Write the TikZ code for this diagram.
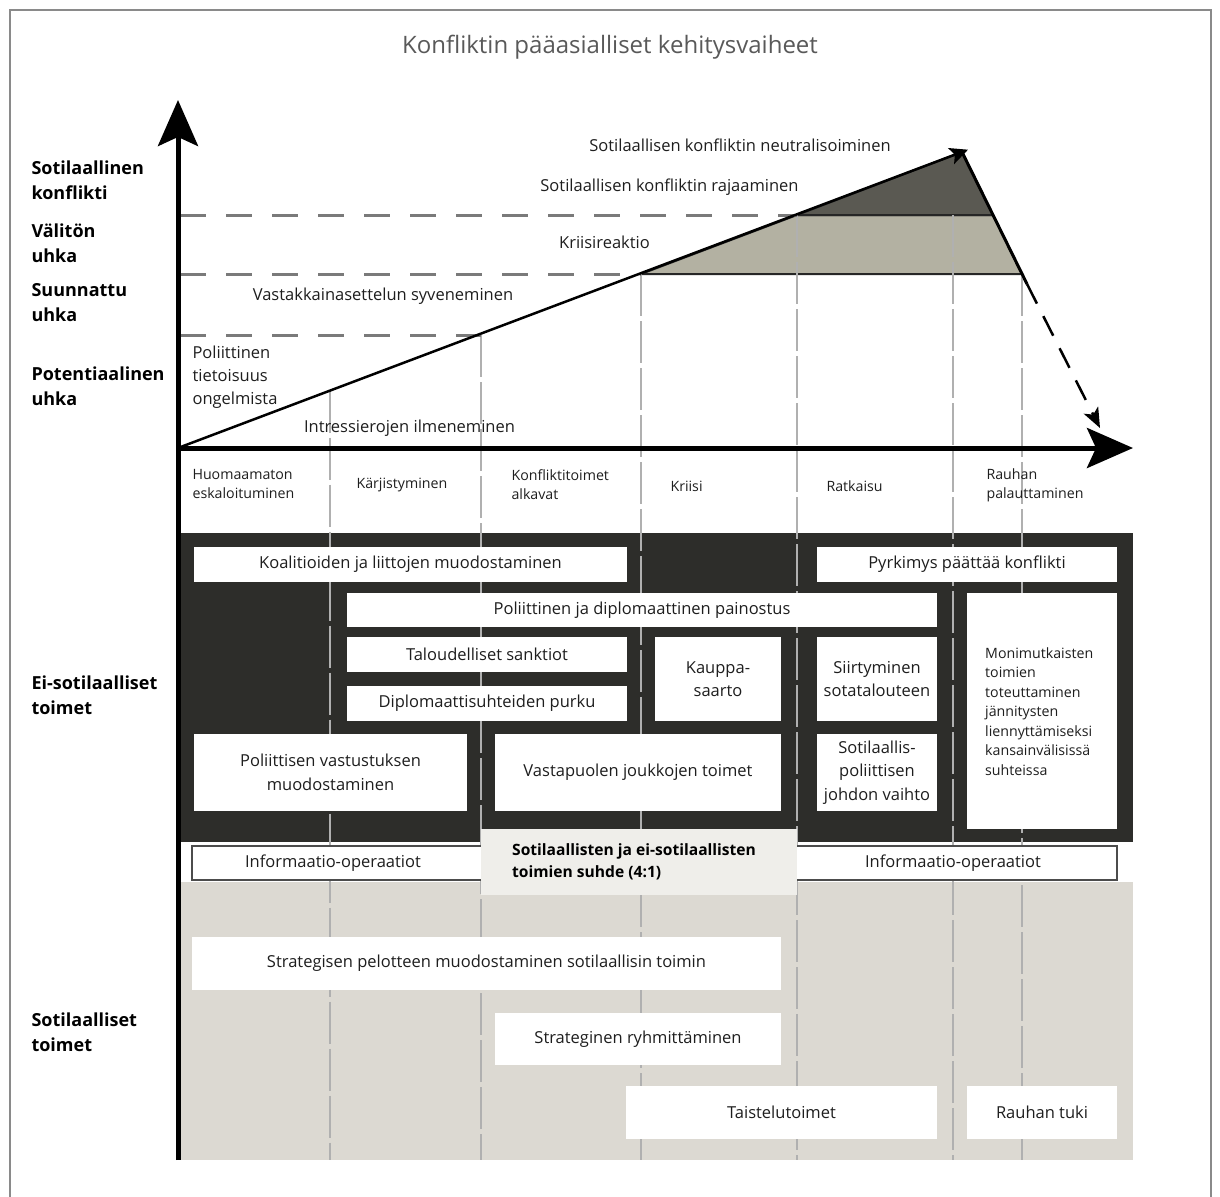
\documentclass[tikz,border=0pt]{standalone}
\usepackage{fontspec}
\setmainfont{Open Sans}
\usetikzlibrary{arrows.meta}
\definecolor{darkbg}{HTML}{2D2D2A}
\definecolor{greybg}{HTML}{DCD9D2}
\definecolor{tridark}{HTML}{5A5952}
\definecolor{trilight}{HTML}{B3B1A2}
\definecolor{titlegrey}{HTML}{595959}
\definecolor{dashgrey}{HTML}{7A7A7A}
\definecolor{vgrey}{HTML}{B0B0B0}
\definecolor{ratiobg}{HTML}{EFEEEA}
\definecolor{txt}{HTML}{1E1E1E}
\definecolor{framegrey}{HTML}{8A8A8A}
\begin{document}
\begin{tikzpicture}[x=1pt,y=-1pt,
  wbox/.style={fill=white, inner sep=2pt, align=center, text=txt,
    font=\fontsize{16.5}{23.5}\selectfont},
  infobox/.style={fill=white, draw=black!70, line width=1.2pt, inner sep=2pt,
    text=txt, font=\fontsize{16.5}{22}\selectfont},
  ratiobox/.style={fill=ratiobg, inner sep=0pt},
  ylab/.style={anchor=west, align=left, font=\bfseries\fontsize{18}{25}\selectfont, text=black},
  plab/.style={align=center, text=txt, font=\fontsize{16.5}{23}\selectfont},
  phlab/.style={anchor=west, align=left, text=txt, font=\fontsize{14.2}{19}\selectfont},
  hdash/.style={draw=dashgrey, line width=3pt, dash pattern=on 26pt off 20pt},
  vline/.style={draw=vgrey, line width=2pt, dash pattern=on 42pt off 5pt},
  axisline/.style={draw=black, line width=5pt},
  bigtip/.style={-{Stealth[length=46pt,width=40pt,inset=9pt]}},
  riseline/.style={draw=black, line width=2.5pt},
]
\useasboundingbox (0,0) rectangle (1220,1196);
% frame
\draw[framegrey, line width=1.2pt] (10,1197) -- (10,10) -- (1211,10) -- (1211,1197);

% key points
\coordinate (O) at (178,448);
\coordinate (peak) at (962,152);
\coordinate (tip) at (968,149.7);
\coordinate (a1) at (797,215);
\coordinate (a2) at (993,215);
\coordinate (b1) at (641,274);
\coordinate (b2) at (1022,274);
\coordinate (c1) at (481,335);
\coordinate (downtip) at (1100,428);

% title
\node[text=titlegrey, font=\fontsize{24}{28}\selectfont] (title) at (610,47) {Konfliktin pääasialliset kehitysvaiheet};

% backgrounds
\fill[darkbg] (178,533) rectangle (1133,842);
\fill[greybg] (178,882) rectangle (1133,1160);

% triangle fills
\filldraw[fill=trilight, draw=black!85, line width=2pt] (b1) -- (a1) -- (a2) -- (b2) -- cycle;
\filldraw[fill=tridark, draw=black!85, line width=2pt] (a1) -- (peak) -- (a2) -- cycle;

% vertical phase lines
\draw[vline] (330,390.6) -- (330,1160);
\draw[vline] (481,335) -- (481,1160);
\draw[vline] (641,274) -- (641,1160);
\draw[vline] (797,215) -- (797,1160);
\draw[vline] (953,215) -- (953,1160);
\draw[vline] (1022,274) -- (1022,1160);

% horizontal dashed levels
\draw[hdash] (180,215) -- (a1);
\draw[hdash] (180,274) -- (b1);
\draw[hdash] (180,335) -- (c1);

% rising line and descent
\draw[riseline, -{Stealth[length=18pt,width=17pt,inset=4pt]}] (O) -- (tip);
\draw[riseline, line width=3pt] (peak) -- (1027,284);
\draw[draw=black, line width=2.5pt, dash pattern=on 22pt off 14pt, -{Stealth[length=20pt,width=16pt,inset=5pt]}] (1027,284) -- (downtip);

% axes
\draw[axisline, bigtip] (178,1160) -- (178,100);
\draw[axisline, bigtip] (176,448) -- (1133,448);

% y labels
\node[ylab] (yl1) at (28,180.5) {Sotilaallinen\\konflikti};
\node[ylab] (yl2) at (28,243) {Välitön\\uhka};
\node[ylab] (yl3) at (28,303) {Suunnattu\\uhka};
\node[ylab] (yl4) at (28,386.5) {Potentiaalinen\\uhka};
\node[ylab] (yl5) at (28,695.5) {Ei-sotilaalliset\\toimet};
\node[ylab] (yl6) at (28,1032.5) {Sotilaalliset\\toimet};

% plot labels
\node[plab] (n1) at (740,145) {Sotilaallisen konfliktin neutralisoiminen};
\node[plab] (n2) at (669.5,187) {Sotilaallisen konfliktin rajaaminen};
\node[plab] (n3) at (604.5,242) {Kriisireaktio};
\node[plab] (n4) at (383,296) {Vastakkainasettelun syveneminen};
\node[plab, anchor=west, align=left] (n5) at (189,377) {Poliittinen\\tietoisuus\\ongelmista};
\node[plab] (n6) at (409.5,428) {Intressierojen ilmeneminen};

% phase labels
\node[phlab] (ph1) at (189,484) {Huomaamaton\\eskaloituminen};
\node[phlab] (ph2) at (353,485) {Kärjistyminen};
\node[phlab] (ph3) at (508,485) {Konfliktitoimet\\alkavat};
\node[phlab] (ph4) at (667,486) {Kriisi};
\node[phlab] (ph5) at (823,486) {Ratkaisu};
\node[phlab] (ph6) at (983,485) {Rauhan\\palauttaminen};

% non-military boxes
\node[wbox, minimum width=433pt, minimum height=35pt] (koal) at (410.5,564.5) {Koalitioiden ja liittojen muodostaminen};
\node[wbox, minimum width=300pt, minimum height=35pt] (pyrk) at (967,564.5) {Pyrkimys päättää konflikti};
\node[wbox, minimum width=590pt, minimum height=34pt] (polit) at (642,610) {Poliittinen ja diplomaattinen painostus};
\node[wbox, minimum width=280pt, minimum height=35pt] (talo) at (487,654.5) {Taloudelliset sanktiot};
\node[wbox, minimum width=280pt, minimum height=35pt] (dipl) at (487,703.5) {Diplomaattisuhteiden purku};
\node[wbox, minimum width=126pt, minimum height=84pt] (kaup) at (718,679) {Kauppa-\\saarto};
\node[wbox, minimum width=120pt, minimum height=84pt] (siirt) at (877,679) {Siirtyminen\\sotatalouteen};
\node[wbox, minimum width=150pt, minimum height=236pt] (monim) at (1042,711) {};
\node[anchor=west, align=left, text=txt, font=\fontsize{14.2}{19.5}\selectfont, inner sep=0pt] (monimt) at (985,711.5) {Monimutkaisten\\toimien\\toteuttaminen\\jännitysten\\liennyttämiseksi\\kansainvälisissä\\suhteissa};
\node[wbox, minimum width=273pt, minimum height=77pt] (vastus) at (330.5,772.5) {Poliittisen vastustuksen\\muodostaminen};
\node[wbox, minimum width=286pt, minimum height=77pt] (vastap) at (638,772.5) {Vastapuolen joukkojen toimet};
\node[wbox, minimum width=120pt, minimum height=77pt] (johto) at (877,772.5) {Sotilaallis-\\poliittisen\\johdon vaihto};

% information operations row
\node[infobox, minimum width=290pt, minimum height=34pt] (info1) at (337,863) {};
\node[text=txt, font=\fontsize{16.5}{22}\selectfont] (info1t) at (333,863) {Informaatio-operaatiot};
\node[infobox, minimum width=330pt, minimum height=34pt] (info2) at (952,863) {};
\node[text=txt, font=\fontsize{16.5}{22}\selectfont] (info2t) at (953,863) {Informaatio-operaatiot};
\node[ratiobox, minimum width=316pt, minimum height=66pt] (ratio) at (639,862) {};
\node[anchor=west, align=left, text=black, font=\bfseries\fontsize{15.6}{22}\selectfont, inner sep=0pt] (ratiot) at (512,862) {Sotilaallisten ja ei-sotilaallisten\\toimien suhde (4:1)};

% military boxes
\node[wbox, minimum width=589pt, minimum height=53pt] (strat) at (486.5,963.5) {Strategisen pelotteen muodostaminen sotilaallisin toimin};
\node[wbox, minimum width=286pt, minimum height=52pt] (ryhm) at (638,1039) {Strateginen ryhmittäminen};
\node[wbox, minimum width=311pt, minimum height=53pt] (taist) at (781.5,1112.5) {Taistelutoimet};
\node[wbox, minimum width=150pt, minimum height=53pt] (rauha) at (1042,1112.5) {Rauhan tuki};
\end{tikzpicture}
\end{document}
